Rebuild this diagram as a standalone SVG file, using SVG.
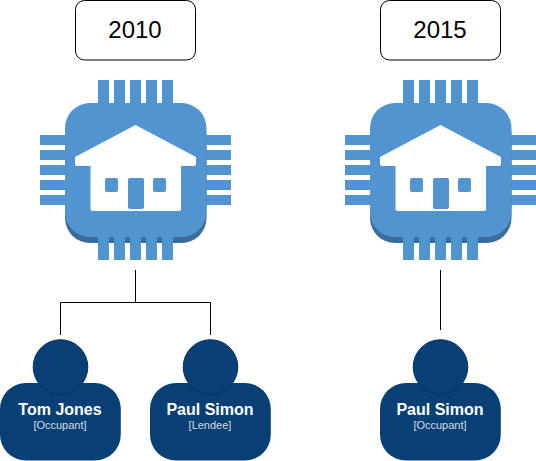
<svg xmlns="http://www.w3.org/2000/svg" width="536" height="461" viewBox="0 0 536 461">
<style>
text{font-family:"Liberation Sans",Arial,sans-serif;text-anchor:middle}
.yr{font-size:24px;fill:#000}
.box{fill:#fff;stroke:#000;stroke-width:1}
.pin{fill:#5294cf}
.nm{font-size:16px;font-weight:bold;fill:#fff}
.rl{font-size:11px;fill:#d5dde6}
.per{fill:#083f75;stroke:#06315c;stroke-width:1}
.bd{fill:#083f75}
.con{fill:none;stroke:#000;stroke-width:1}
</style>
<defs>
<g id="chip">
<path class="pin" d="M98 80h11v23h-11zM114 80h11v23h-11zM130 80h11v23h-11zM146 80h11v23h-11zM162 80h11v23h-11z"/>
<path class="pin" d="M40 135h25v10h-25zM40 150h25v10h-25zM40 165h25v10h-25zM40 180h25v10h-25zM40 195h25v10h-25z"/>
<path class="pin" d="M206 135h25v10h-25zM206 150h25v10h-25zM206 165h25v10h-25zM206 180h25v10h-25zM206 195h25v10h-25z"/>
<rect x="65" y="110" width="141.500" height="133" rx="25" fill="#3b6c9c"/>
<rect x="65" y="103" width="141.500" height="134" rx="25" fill="#5294cf"/>
<path class="pin" d="M98 237h11v23h-11zM114 237h11v23h-11zM130 237h11v23h-11zM146 237h11v23h-11zM162 237h11v23h-11z"/>
<path d="M135.500 125L75 157v7q0 2 2 2h13.500v43q0 2 2 2h86.500q2 0 2-2v-43h13q2 0 2-2v-7z" fill="#fff"/>
<rect x="105" y="178" width="13" height="14" rx="2" class="pin"/>
<rect x="128" y="178" width="16" height="31" rx="2" class="pin"/>
<rect x="153" y="178" width="13" height="14" rx="2" class="pin"/>
</g>
</defs>
<g id="connectors">
<path class="con" d="M135.500 270V302.500M60.500 335V302.500H210.500V335"/>
<path class="con" d="M440.500 270V330"/>
</g>
<g id="year-2010"><rect class="box" x="75.500" y="0.500" width="120" height="59.500" rx="9"/><text class="yr" x="135" y="38">2010</text></g>
<g id="year-2015"><rect class="box" x="380.500" y="0.500" width="120" height="59.500" rx="9"/><text class="yr" x="440" y="38">2015</text></g>
<g id="chip-2010"><use href="#chip"/></g>
<g id="chip-2015"><use href="#chip" x="305"/></g>
<g id="tom-jones">
<rect class="bd" x="0" y="383" width="120.800" height="77.500" rx="26"/>
<circle class="per" cx="60.500" cy="367" r="27.300"/>
<text class="nm" x="60" y="415">Tom Jones</text><text class="rl" x="60" y="429">[Occupant]</text>
</g>
<g id="paul-simon-lendee">
<rect class="bd" x="150" y="383" width="120.800" height="77.500" rx="26"/>
<circle class="per" cx="210.500" cy="367" r="27.300"/>
<text class="nm" x="210" y="415">Paul Simon</text><text class="rl" x="210" y="429">[Lendee]</text>
</g>
<g id="paul-simon-occupant">
<rect class="bd" x="380" y="383" width="120.800" height="77.500" rx="26"/>
<circle class="per" cx="440.500" cy="367" r="27.300"/>
<text class="nm" x="440" y="415">Paul Simon</text><text class="rl" x="440" y="429">[Occupant]</text>
</g>
</svg>
